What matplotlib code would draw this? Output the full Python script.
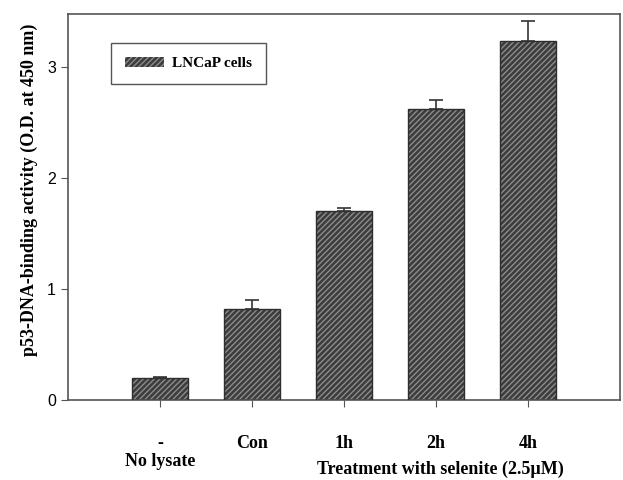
import numpy as np
import matplotlib.pyplot as plt
from matplotlib.patches import Patch

groups = ['-', 'Con', '1h', '2h', '4h']
values = [0.20, 0.82, 1.70, 2.62, 3.24]
errors = [0.01, 0.08, 0.03, 0.08, 0.18]

serif = 'Liberation Serif'
sans = 'Liberation Sans'

fig = plt.figure(figsize=(6.23, 4.8), dpi=100)
ax = fig.add_axes([0.109, 0.167, 0.886, 0.804])

x = np.arange(len(groups))
# hatched fill, then a dark outline on top
ax.bar(x, values, width=0.61, color='#3c3c3c', edgecolor='#8c8c8c',
       hatch='//////', linewidth=0, zorder=2)
ax.bar(x, values, width=0.61, color='none', edgecolor='#2e2e2e',
       linewidth=1.0, zorder=3)
ax.errorbar(x, values, yerr=[np.zeros(len(errors)), errors], fmt='none',
            ecolor='#333333', elinewidth=1.2, capsize=5, capthick=1.2, zorder=4)

ax.set_xlim(-1, 5)
ax.set_ylim(0, 3.48)
ax.set_yticks([0, 1, 2, 3])
ax.set_xticks(x)
ax.set_xticklabels(groups, fontfamily=serif, fontweight='bold', fontsize=13)
ax.tick_params(axis='x', direction='out', length=5, pad=20, color='#555555')
ax.tick_params(axis='y', direction='out', length=5, labelsize=11.5, color='#555555')
for lbl in ax.get_yticklabels():
    lbl.set_fontfamily(sans)
for s in ax.spines.values():
    s.set_color('#555555')
    s.set_linewidth(1.2)

ax.set_ylabel('p53-DNA-binding activity (O.D. at 450 nm)', fontfamily=serif,
              fontweight='bold', fontsize=13)
ax.yaxis.set_label_coords(-0.055, 0.545)

fig.text(160 / 623, 1 - 462 / 480, 'No lysate', ha='center', va='center',
         fontfamily=serif, fontweight='bold', fontsize=13)
fig.text(440 / 623, 1 - 469 / 480, 'Treatment with selenite (2.5\u00b5M)', ha='center',
         va='center', fontfamily=serif, fontweight='bold', fontsize=13)

handle = Patch(facecolor='#3c3c3c', edgecolor='#8c8c8c', hatch='//////', linewidth=0)
leg = ax.legend([handle], ['LNCaP cells'], loc='upper left',
                bbox_to_anchor=(0.078, 0.925), fancybox=False, framealpha=1,
                edgecolor='#555555', borderpad=0.9, handlelength=2.6,
                handletextpad=0.5, borderaxespad=0,
                prop={'family': serif, 'weight': 'bold', 'size': 11})
leg.get_frame().set_linewidth(1.0)

fig.savefig('out.png', dpi=100)
